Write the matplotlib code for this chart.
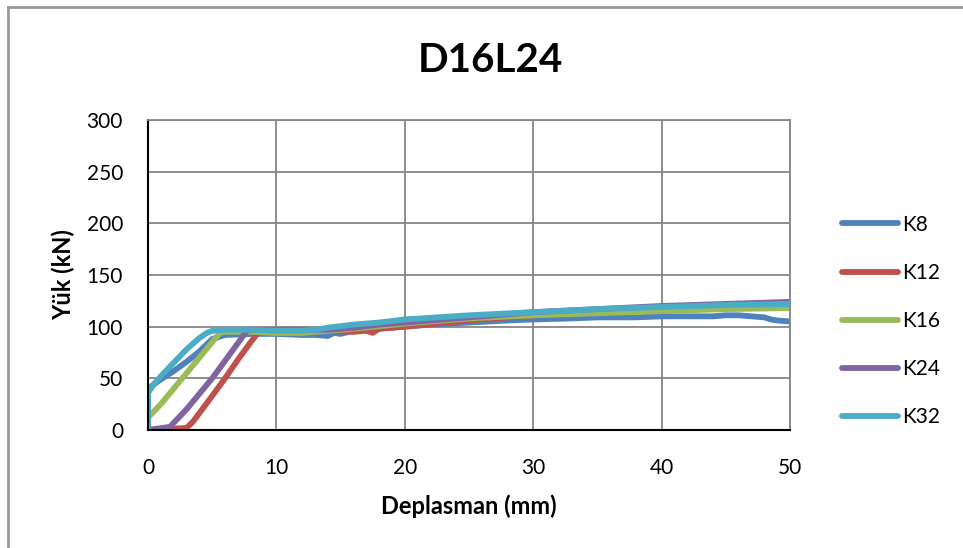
import matplotlib
matplotlib.use('Agg')
import matplotlib.pyplot as plt
from matplotlib.lines import Line2D

plt.rcParams['font.family'] = ['Lato', 'DejaVu Sans']

# load-displacement data
k8_x = [0, 0, 1, 2, 3, 4, 5, 6, 8, 10, 12, 13, 14, 14.5, 15, 16, 18, 20, 22, 25, 28,
        30, 33, 35, 38, 40, 42, 44, 45, 46, 47, 48, 48.5, 49, 50]
k8_y = [0, 40, 49, 57, 66, 76, 88, 92, 93, 93, 92, 92, 91, 94, 93, 96, 98, 100, 102, 104, 106,
        107, 108, 109, 109, 110, 110, 110, 111, 111, 110, 109, 107, 106, 105]

k12_x = [0, 3, 3.5, 5, 6, 7, 8, 8.5, 9, 10, 12, 14, 16, 17, 17.5, 18, 20, 25, 30, 35, 40, 45, 50]
k12_y = [0, 2, 8, 33, 50, 68, 85, 93, 95, 95, 95, 96, 95, 96, 94, 98, 100, 106, 111, 115, 118, 121, 123]

k16_x = [0, 1, 2, 3, 4, 5, 5.6, 6, 8, 10, 12, 14, 16, 20, 25, 30, 35, 40, 45, 50]
k16_y = [12, 25, 40, 55, 70, 85, 94, 95, 95, 94, 94, 96, 98, 103, 108, 111, 113, 115, 117, 118]

k24_x = [0, 1.7, 3, 4, 5, 6, 7, 7.7, 8, 10, 12, 14, 16, 18, 20, 25, 30, 35, 40, 45, 50]
k24_y = [0, 3, 20, 35, 50, 67, 84, 96, 97, 97, 97, 97, 99, 102, 104, 109, 114, 117, 120, 122, 124]

k32_x = [0, 0, 0.5, 1, 2, 3, 4, 4.6, 5, 6, 8, 10, 12, 13, 14, 16, 18, 20, 25, 30, 35, 40, 45, 50]
k32_y = [0, 36, 45, 52, 65, 78, 89, 94, 96, 97, 97, 96, 96, 97, 99, 102, 104, 107, 111, 114, 117, 119, 121, 122]

names = ['K8', 'K12', 'K16', 'K24', 'K32']
colors = ['#4F81BD', '#C0504D', '#9BBB59', '#8064A2', '#4BACC6']
series = [(k8_x, k8_y), (k12_x, k12_y), (k16_x, k16_y), (k24_x, k24_y), (k32_x, k32_y)]

fig = plt.figure(figsize=(9.63, 5.48), dpi=100)
ax = fig.add_axes([148/963, 1 - 430/548, (790 - 148)/963, (430 - 120)/548])

for (x, y), name, c in zip(series, names, colors):
    ax.plot(x, y, color=c, lw=4.2, label=name, solid_capstyle='round', solid_joinstyle='round')

ax.set_xlim(0, 50)
ax.set_ylim(0, 300)
ax.set_xticks(range(0, 51, 10))
ax.set_yticks(range(0, 301, 50))
ax.grid(True, color='#868686', lw=1.3)
ax.set_axisbelow(True)
ax.tick_params(length=0, labelsize=15)
ax.tick_params(axis='y', pad=18)
ax.tick_params(axis='x', pad=20)
for s in ['left', 'bottom']:
    ax.spines[s].set_color('black')
    ax.spines[s].set_linewidth(1.5)
for s in ['top', 'right']:
    ax.spines[s].set_color('#868686')
    ax.spines[s].set_linewidth(1.3)

ax.set_xlabel('Deplasman (mm)', fontsize=17, fontweight='bold', labelpad=12)
ax.set_ylabel('Yük (kN)', fontsize=17, fontweight='bold', labelpad=8)
fig.text(490/963, 1 - 60/548, 'D16L24', fontsize=29, fontweight='bold', ha='center', va='center')

ax.legend(loc='center left', bbox_to_anchor=(842/963, 1 - 321/548), bbox_transform=fig.transFigure,
          frameon=False, fontsize=15, handlelength=2.7, handletextpad=0.2, labelspacing=1.35,
          borderpad=0, borderaxespad=0)

# chart area border (top and left visible)
fig.add_artist(Line2D([8/963, 8/963], [0, 1 - 7/548], color='#9a9a9a', lw=2))
fig.add_artist(Line2D([8/963, 1], [1 - 7/548, 1 - 7/548], color='#9a9a9a', lw=2))

fig.savefig('out.png', dpi=100, facecolor='white')
